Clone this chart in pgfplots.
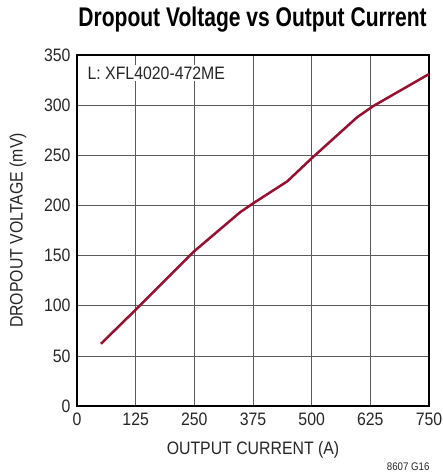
\documentclass[border=0pt]{standalone}
\usepackage{fontspec}
\setmainfont[FakeStretch=0.88]{Liberation Sans}
\newfontfamily\titlefont[FakeStretch=0.78]{Liberation Sans}
\usepackage{pgfplots}
\pgfplotsset{compat=1.18}
\definecolor{ltred}{RGB}{152,16,48}
\definecolor{gridc}{RGB}{90,90,90}
\begin{document}
\begin{tikzpicture}
\useasboundingbox (-77bp,-68bp) rectangle (366bp,406bp);
\begin{axis}[
  scale only axis,
  width=352bp, height=351bp,
  xmin=0, xmax=750, ymin=0, ymax=350,
  xtick={0,125,...,750}, ytick={0,50,...,350},
  grid=major,
  major grid style={draw=gridc, line width=0.7bp},
  axis line style={line width=1.3bp, black},
  major tick length=0pt,
  /pgf/number format/assume math mode=true,
  ticklabel style={font=\fontsize{18bp}{20bp}\selectfont, text=black!85},
  xticklabel style={yshift=-3bp},
  yticklabel style={xshift=-3bp},
  xlabel={OUTPUT CURRENT (A)},
  ylabel={DROPOUT VOLTAGE (mV)},
  label style={font=\fontsize{18bp}{20bp}\selectfont, text=black!85},
  xlabel style={at={(axis description cs:0.5,0)}, anchor=center, yshift=-44bp},
  ylabel style={at={(axis description cs:0,0.5)}, anchor=center, xshift=0bp, yshift=59bp},
]
\addplot[color=ltred, line width=2.5bp, line join=round] coordinates {
  (51,62) (125,96) (249,154) (347,193) (375,202) (448,224) (500,247) (597,288) (631,299) (750,331)
};
\node[fill=white, anchor=west, inner sep=2bp, font=\fontsize{18bp}{20bp}\selectfont, text=black!85] at (axis cs:18,332) {L: XFL4020-472ME};
\end{axis}
\node[font=\titlefont\bfseries\fontsize{27bp}{29bp}\selectfont, anchor=center] at (175.5bp,386bp) {Dropout Voltage vs Output Current};
\node[font=\fontsize{11bp}{12bp}\selectfont, anchor=east, text=black!85] at (356bp,-61bp) {8607 G16};
\end{tikzpicture}
\end{document}
